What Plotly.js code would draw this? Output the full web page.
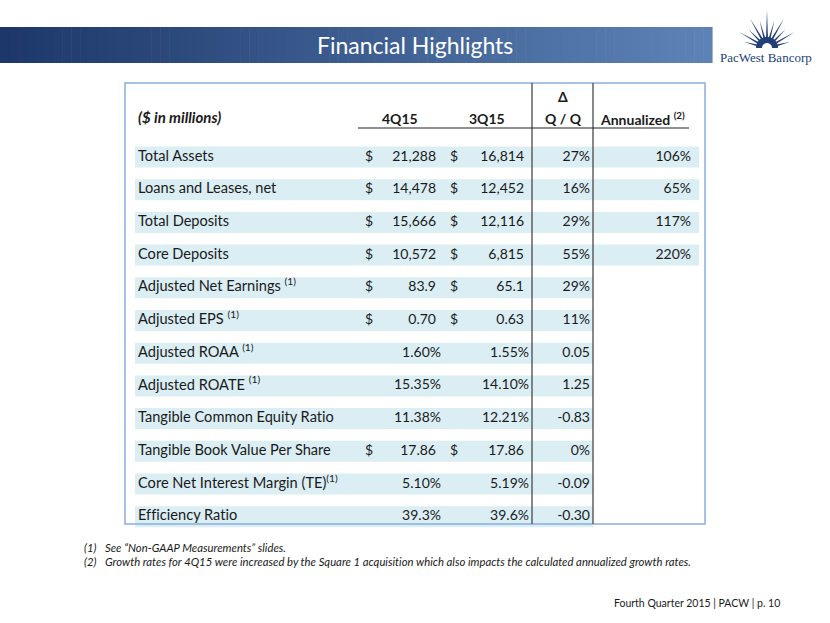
<!DOCTYPE html>
<html>
<head>
<meta charset="utf-8">
<script src="https://cdn.plot.ly/plotly-3.0.1.min.js"></script>
<style>
html,body{margin:0;padding:0;background:#fff;}
#chart{width:830px;height:623px;}
#chart text{font-variant-ligatures:none;font-feature-settings:"liga" 0,"dlig" 0;}
</style>
</head>
<body>
<div id="chart"></div>
<script>
// ---------- DATA ----------
const slideTitle = 'Financial Highlights';
const unitLabel = '($ in millions)';
const columnHeaders = ['4Q15', '3Q15', 'Q / Q', 'Annualized <sup>(2)</sup>'];
const deltaSymbol = 'Δ';
const metrics = [
  'Total Assets',
  'Loans and Leases, net',
  'Total Deposits',
  'Core Deposits',
  'Adjusted Net Earnings <sup>(1)</sup>',
  'Adjusted EPS <sup>(1)</sup>',
  'Adjusted ROAA <sup>(1)</sup>',
  'Adjusted ROATE <sup>(1)</sup>',
  'Tangible Common Equity Ratio',
  'Tangible Book Value Per Share',
  'Core Net Interest Margin (TE)<sup>(1)</sup>',
  'Efficiency Ratio'
];
const hasDollar = [true, true, true, true, true, true, false, false, false, true, false, false];
const values4Q15 = ['21,288', '14,478', '15,666', '10,572', '83.9', '0.70', '1.60%', '15.35%', '11.38%', '17.86', '5.10%', '39.3%'];
const values3Q15 = ['16,814', '12,452', '12,116', '6,815', '65.1', '0.63', '1.55%', '14.10%', '12.21%', '17.86', '5.19%', '39.6%'];
const changeQoQ = ['27%', '16%', '29%', '55%', '29%', '11%', '0.05', '1.25', '-0.83', '0%', '-0.09', '-0.30'];
const annualized = ['106%', '65%', '117%', '220%', null, null, null, null, null, null, null, null];
const footnotes = [
  ['(1)', 'See \u201CNon-GAAP Measurements\u201D slides.'],
  ['(2)', 'Growth rates for 4Q15 were increased by the Square 1 acquisition which also impacts the calculated annualized growth rates.']
];
const footerText = 'Fourth Quarter 2015 | PACW | p. 10';
const logoText = 'PacWest Bancorp';

// ---------- STYLE / LAYOUT ----------
const FONT = 'Lato, "Open Sans", sans-serif';
const TXT = '#1a1a1a';
const W = 830, H = 623;
const rowTop = 157, rowStep = 32.7;
const rowIdx = metrics.map((_, i) => i);
const y2Top = -rowTop / rowStep;
const y2Bottom = y2Top + H / rowStep;

const traces = [];
// draws one text column; rows with no value are left out
function textCol(xFn, texts, pos, size) {
  const xs = [], ys = [], ts = [];
  texts.forEach((t, i) => {
    if (t === null || t === undefined || t === '') return;
    xs.push(xFn(t, i)); ys.push(rowIdx[i]); ts.push(t);
  });
  traces.push({
    type: 'scatter', mode: 'text', yaxis: 'y2',
    x: xs, y: ys, text: ts, textposition: pos,
    textfont: {family: FONT, size: size || 14, color: TXT},
    hoverinfo: 'skip', cliponaxis: false
  });
}
const isPct = s => /%$/.test(s);
const dollars = hasDollar.map(d => d ? '$' : null);
textCol(() => 138, metrics, 'middle right', 14.6);
textCol(() => 369, dollars, 'middle center');
textCol(v => isPct(v) ? 441 : 436, values4Q15, 'middle left');
textCol(() => 454, dollars, 'middle center');
textCol(v => isPct(v) ? 529 : 524, values3Q15, 'middle left');
textCol(() => 590, changeQoQ, 'middle left');
textCol(() => 691, annualized, 'middle left');

const shapes = [];
// banner gradient
const c0 = [29, 55, 106], c1 = [93, 131, 182];
const nSteps = 80, bx1 = 712;
for (let k = 0; k < nSteps; k++) {
  const t = k / (nSteps - 1);
  const c = c0.map((v, j) => Math.round(v + (c1[j] - v) * t));
  shapes.push({type: 'rect', xref: 'x', yref: 'y', layer: 'below',
    x0: bx1 * k / nSteps, x1: bx1 * (k + 1) / nSteps + 0.6, y0: 27, y1: 63,
    fillcolor: `rgb(${c[0]},${c[1]},${c[2]})`, line: {width: 0}});
}
// logo starburst
const cx = 767, cy = 48;
const NAVY = '#223f78';
const rayAngles = [15, 30, 45, 60, 75, 90, 105, 120, 135, 150, 165];
const rayLens = [24, 32, 26, 34, 28, 38, 28, 34, 26, 32, 24];
const P = (ang, r) => `${(cx + r * Math.cos(ang)).toFixed(2)},${(cy - r * Math.sin(ang)).toFixed(2)}`;
let rays = '';
rayAngles.forEach((deg, k) => {
  const a = deg * Math.PI / 180, da = 7.5 * Math.PI / 180;
  rays += `M${P(a - da, 8)} L${P(a, rayLens[k])} L${P(a + da, 8)} Z `;
});
shapes.push({type: 'path', path: rays, fillcolor: NAVY, line: {width: 0}, xref: 'x', yref: 'y'});
function halfDisc(r) {
  let s = `M${cx - r},${cy} `;
  for (let k = 0; k <= 24; k++) {
    const a = Math.PI - Math.PI * k / 24;
    s += `L${P(a, r)} `;
  }
  return s + 'Z';
}
shapes.push({type: 'path', path: halfDisc(11), fillcolor: NAVY, line: {width: 0}, xref: 'x', yref: 'y'});
shapes.push({type: 'path', path: halfDisc(5), fillcolor: '#ffffff', line: {width: 0}, xref: 'x', yref: 'y'});

// row bands
rowIdx.forEach(i => {
  shapes.push({type: 'rect', xref: 'x', yref: 'y2', layer: 'below',
    x0: 135, x1: annualized[i] ? 699 : 593, y0: i - 10.5 / rowStep, y1: i + 10.5 / rowStep,
    fillcolor: '#dbeef4', line: {width: 0}});
});
// table frame
shapes.push({type: 'rect', xref: 'x', yref: 'y', x0: 125, x1: 705, y0: 83, y1: 524,
  line: {color: '#8aaedc', width: 1.5}, fillcolor: 'rgba(0,0,0,0)'});
// column separators
[532, 593].forEach(x => shapes.push({type: 'line', xref: 'x', yref: 'y', x0: x, x1: x, y0: 83, y1: 524,
  line: {color: '#4a4a4a', width: 1.3}}));
// header underline
shapes.push({type: 'line', xref: 'x', yref: 'y', x0: 358, x1: 689, y0: 128, y1: 128,
  line: {color: '#222', width: 1.2}});

const annotations = [];
function ann(x, y, text, o) {
  o = o || {};
  annotations.push(Object.assign({xref: 'x', yref: 'y', x: x, y: y, text: text, showarrow: false,
    xanchor: 'center', yanchor: 'middle', borderpad: 0,
    font: {family: FONT, size: 14, color: TXT}}, o));
}
ann(415, 45, slideTitle, {font: {family: FONT, size: 23, color: '#ffffff'}});
ann(766, 57, logoText, {font: {family: '"Liberation Serif", "DejaVu Serif", serif', size: 13, color: NAVY}});
ann(137, 117, '<b><i>' + unitLabel + '</i></b>', {xanchor: 'left', font: {family: FONT, size: 15, color: TXT}});
const headerX = [400, 487, 563, 642];
columnHeaders.forEach((h, i) => ann(headerX[i], 118, '<b>' + h + '</b>'));
ann(563, 96, '<b>' + deltaSymbol + '</b>');
const FN = {family: FONT, size: 11.3, color: TXT};
footnotes.forEach((f, i) => {
  ann(83, 547 + i * 14, '<i>' + f[0] + '</i>', {xanchor: 'left', font: FN});
  ann(104, 547 + i * 14, '<i>' + f[1] + '</i>', {xanchor: 'left', font: FN});
});
ann(781, 603, footerText, {xanchor: 'right', font: {family: FONT, size: 10.5, color: TXT}});

const layout = {
  width: W, height: H,
  margin: {l: 0, r: 0, t: 0, b: 0, pad: 0},
  paper_bgcolor: '#ffffff', plot_bgcolor: '#ffffff',
  showlegend: false,
  xaxis: {range: [0, W], visible: false, fixedrange: true},
  yaxis: {range: [H, 0], visible: false, fixedrange: true},
  yaxis2: {range: [y2Bottom, y2Top], visible: false, fixedrange: true, overlaying: 'y'},
  shapes: shapes,
  annotations: annotations
};
Plotly.newPlot('chart', traces, layout, {displayModeBar: false, staticPlot: true});
</script>
</body>
</html>
